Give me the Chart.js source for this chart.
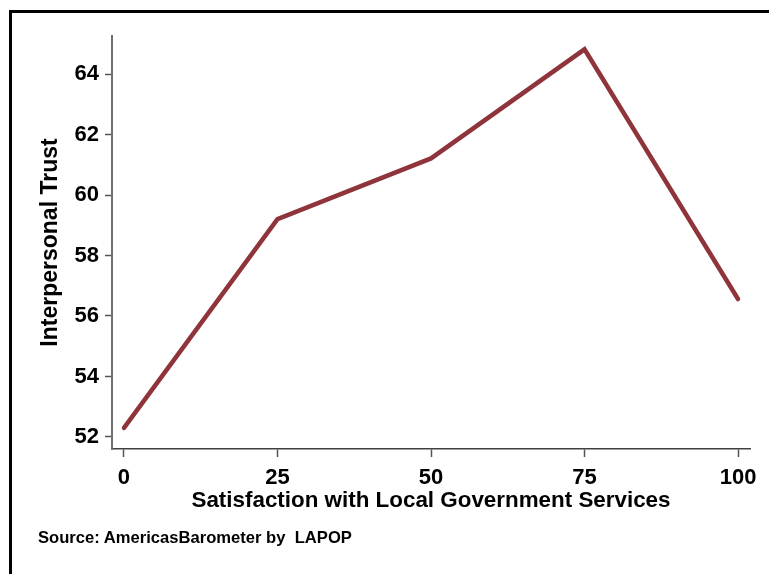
<!DOCTYPE html>
<html>
<head>
<meta charset="utf-8">
<script src="https://cdn.jsdelivr.net/npm/chart.js@4"></script>
<style>
  html, body { margin: 0; padding: 0; background: #fff; }
  #frame {
    position: absolute; left: 9px; top: 10px; width: 800px; height: 600px;
    border-top: 3px solid #000; border-left: 3px solid #000;
  }
  #chart { position: absolute; left: 0; top: 0; }
  #source {
    position: absolute; left: 38px; top: 528px;
    font: bold 16.6px "Liberation Sans", Arial, sans-serif; color: #000;
    white-space: pre;
  }
</style>
</head>
<body>
<div id="frame"></div>
<canvas id="chart" width="769" height="574"></canvas>
<div id="source">Source: AmericasBarometer by  LAPOP</div>
<script>
// satisfaction levels on the x axis
const satisfaction = [0, 25, 50, 75, 100];
// interpersonal trust averages
const trust = [52.3, 59.2, 61.21, 64.82, 56.56];

const xTicks = [0, 25, 50, 75, 100];
const yTicks = [52, 54, 56, 58, 60, 62, 64];

const tickFont = { family: 'Liberation Sans', size: 22, weight: 'bold' };

const ctx = document.getElementById('chart').getContext('2d');
new Chart(ctx, {
    type: 'line',
    data: {
        datasets: [{
            data: satisfaction.map((x, i) => ({ x: x, y: trust[i] })),
            borderColor: '#8f343b',
            borderWidth: 4.5,
            borderCapStyle: 'round',
            borderJoinStyle: 'miter',
            pointRadius: 0,
            tension: 0
        }]
    },
    options: {
        responsive: false,
        animation: false,
        layout: { padding: { left: 0, top: 36, right: 19, bottom: 0 } },
        plugins: {
            legend: { display: false },
            tooltip: { enabled: false }
        },
        scales: {
            x: {
                type: 'linear',
                min: -1.95,
                max: 101.95,
                afterBuildTicks: scale => { scale.ticks = xTicks.map(v => ({ value: v })); },
                afterFit: scale => { scale.height = 125; },
                grid: { drawOnChartArea: false, tickLength: 8, tickColor: '#555', tickWidth: 1.5 },
                border: { color: '#404040', width: 1.5 },
                ticks: { font: tickFont, color: '#000', padding: 8, maxRotation: 0 },
                title: {
                    display: true,
                    text: 'Satisfaction with Local Government Services',
                    font: { family: 'Liberation Sans', size: 22.4, weight: 'bold' },
                    color: '#000',
                    padding: { top: 0, bottom: 60 }
                }
            },
            y: {
                min: 51.6,
                max: 65.26,
                afterBuildTicks: scale => { scale.ticks = yTicks.map(v => ({ value: v })); },
                afterFit: scale => { scale.width = 112; },
                grid: { drawOnChartArea: false, tickLength: 7, tickColor: '#555', tickWidth: 1.5 },
                border: { color: '#707070', width: 2 },
                ticks: { font: tickFont, color: '#000', padding: 6 },
                title: {
                    display: true,
                    text: 'Interpersonal Trust',
                    font: { family: 'Liberation Sans', size: 23, weight: 'bold' },
                    color: '#000',
                    padding: { top: 37, bottom: 0 }
                }
            }
        }
    }
});
</script>
</body>
</html>
